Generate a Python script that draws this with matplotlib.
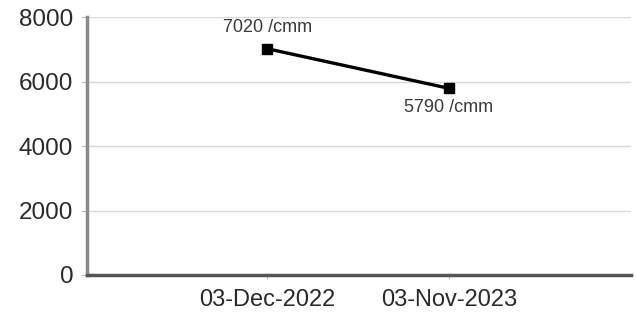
import matplotlib.pyplot as plt

plt.rcParams['font.family'] = ['Liberation Sans', 'DejaVu Sans']

dates = ['03-Dec-2022', '03-Nov-2023']
counts = [7020, 5790]
labels = ['7020 /cmm', '5790 /cmm']
yticks = [0, 2000, 4000, 6000, 8000]

fig = plt.figure(figsize=(6.36, 3.17), dpi=100)
ax = fig.add_axes([0.137, 0.1325, 0.855, 0.8135])

x = list(range(len(dates)))
ax.plot(x, counts, color='black', lw=2.4, marker='s', markersize=6.5, zorder=3)

# value labels: first above, second below
ax.annotate(labels[0], (x[0], counts[0]), xytext=(0, 15), textcoords='offset points',
            ha='center', va='center', fontsize=13, color='#3a3a3a')
ax.annotate(labels[1], (x[1], counts[1]), xytext=(0, -14), textcoords='offset points',
            ha='center', va='center', fontsize=13, color='#3a3a3a')

ax.set_xlim(-0.99, 2.0)
ax.set_ylim(0, 8000)
ax.set_yticks(yticks)
ax.set_xticks(x)
ax.set_xticklabels(dates)
ax.grid(axis='y', color='#d9d9d9', lw=1)
ax.set_axisbelow(True)

for s in ['top', 'right']:
    ax.spines[s].set_visible(False)
ax.spines['left'].set_color('#8a8a8a')
ax.spines['left'].set_linewidth(2.5)
ax.spines['bottom'].set_color('#555555')
ax.spines['bottom'].set_linewidth(2.5)

ax.tick_params(axis='y', length=4, color='#bbbbbb', labelsize=17.5, labelcolor='#2a2a2a', pad=6)
ax.tick_params(axis='x', length=3, color='#bbbbbb', labelsize=17, labelcolor='#2a2a2a', pad=7)

fig.savefig('out.png', dpi=100)
